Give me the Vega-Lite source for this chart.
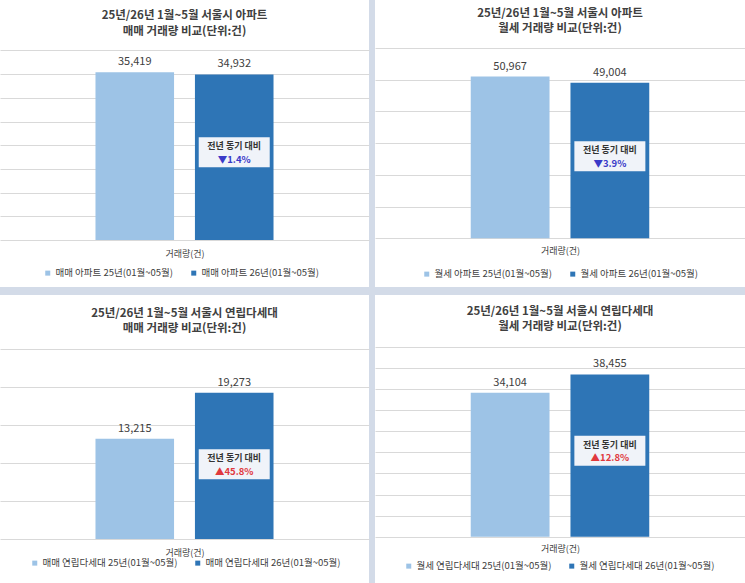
{
  "$schema": "https://vega.github.io/schema/vega-lite/v6.json",
  "background": "#d3dbe8",
  "padding": 0,
  "config": {
    "font": "Noto Sans CJK KR",
    "view": {"fill": "white", "stroke": null},
    "range": {"category": ["#9dc3e6", "#2e75b6"]},
    "title": {"fontSize": 11.5, "fontWeight": "bold", "color": "#404040", "anchor": "middle", "frame": "group", "baseline": "bottom", "font": "Noto Sans CJK KR"},
    "axis": {"minExtent": 0, "labels": false, "ticks": false, "domain": false, "tickCount": 30, "titleFontSize": 9, "titleFontWeight": "normal", "titleColor": "#404040", "titleBaseline": "middle", "gridColor": "#d9d9d9", "gridWidth": 1},
    "axisX": {"grid": false},
    "legend": {"orient": "none", "direction": "horizontal", "columns": 2, "symbolType": "square", "symbolSize": 25, "symbolStrokeWidth": 0, "labelFontSize": 9.5, "labelColor": "#404040", "columnPadding": 15, "padding": 0, "labelLimit": 300, "labelOffset": 3, "title": null},
    "text": {"fontSize": 11, "color": "#404040"}
  },
  "datasets": {
    "d": [
      {"panel": "p1", "series": "매매 아파트 25년(01월~05월)", "value": 35419},
      {"panel": "p1", "series": "매매 아파트 26년(01월~05월)", "value": 34932, "change": "▼1.4%"},
      {"panel": "p2", "series": "월세 아파트 25년(01월~05월)", "value": 50967},
      {"panel": "p2", "series": "월세 아파트 26년(01월~05월)", "value": 49004, "change": "▼3.9%"},
      {"panel": "p3", "series": "매매 연립다세대 25년(01월~05월)", "value": 13215},
      {"panel": "p3", "series": "매매 연립다세대 26년(01월~05월)", "value": 19273, "change": "▲45.8%"},
      {"panel": "p4", "series": "월세 연립다세대 25년(01월~05월)", "value": 34104},
      {"panel": "p4", "series": "월세 연립다세대 26년(01월~05월)", "value": 38455, "change": "▲12.8%"}
    ]
  },
  "spacing": 8,
  "resolve": {"scale": {"color": "independent", "x": "independent", "y": "independent"}, "legend": {"color": "independent"}},
  "vconcat": [
    {
      "spacing": 6,
      "resolve": {"scale": {"color": "independent", "x": "independent", "y": "independent"}, "legend": {"color": "independent"}},
      "hconcat": [
        {
          "width": 369, "height": 287,
          "data": {"name": "d"},
          "transform": [{"filter": "datum.panel === 'p1'"}],
          "title": {"text": ["25년/26년 1월~5월 서울시 아파트", "매매 거래량 비교(단위:건)"], "offset": -37, "lineHeight": 16},
          "encoding": {"x": {"field": "series", "type": "nominal", "scale": {"paddingInner": 0.21, "paddingOuter": 0.96}, "axis": {"title": "거래량(건)", "titleY": -34}}},
          "layer": [
            {"layer": [
              {"mark": {"type": "bar"}, "encoding": {
                "y": {"field": "value", "type": "quantitative", "scale": {"domain": [-9917, 50640], "nice": false, "zero": false}, "axis": {"title": null, "values": [0, 5000, 10000, 15000, 20000, 25000, 30000, 35000, 40000]}},
                "color": {"field": "series", "type": "nominal", "legend": {"legendX": 43, "legendY": 268}}}},
              {"mark": {"type": "text", "baseline": "bottom", "dy": -5}, "encoding": {
                "y": {"field": "value", "type": "quantitative"},
                "text": {"field": "value", "type": "quantitative", "format": ","}}}
            ]},
            {"transform": [{"filter": "isValid(datum.change)"}],
             "encoding": {"y": {"field": "value", "type": "quantitative", "scale": {"domain": [-18711, 95547], "nice": false, "zero": false}, "axis": null}},
             "layer": [
               {"mark": {"type": "point", "shape": "M-1,-0.4225H1V0.4225H-1Z", "size": 5041, "filled": true, "color": "#f0f3f9", "opacity": 1, "strokeWidth": 0}},
               {"mark": {"type": "text", "baseline": "middle", "dy": -6, "fontSize": 9, "fontWeight": "bold", "color": "#333333"}, "encoding": {"text": {"value": "전년 동기 대비"}}},
               {"mark": {"type": "text", "baseline": "middle", "dy": 7.5, "fontSize": 9.5, "fontWeight": "bold", "color": "#3a3ac8"}, "encoding": {"text": {"field": "change", "type": "nominal"}}}
             ]}
          ],
          "resolve": {"scale": {"y": "independent"}}
        },
        {
          "width": 370, "height": 287,
          "data": {"name": "d"},
          "transform": [{"filter": "datum.panel === 'p2'"}],
          "title": {"text": ["25년/26년 1월~5월 서울시 아파트", "월세 거래량 비교(단위:건)"], "offset": -34.5, "lineHeight": 15.5},
          "encoding": {"x": {"field": "series", "type": "nominal", "scale": {"paddingInner": 0.21, "paddingOuter": 0.96}, "axis": {"title": "거래량(건)", "titleY": -37}}},
          "layer": [
            {"layer": [
              {"mark": {"type": "bar"}, "encoding": {
                "y": {"field": "value", "type": "quantitative", "scale": {"domain": [-15341, 75065], "nice": false, "zero": false}, "axis": {"title": null, "values": [0, 10000, 20000, 30000, 40000, 50000, 60000]}},
                "color": {"field": "series", "type": "nominal", "legend": {"legendX": 47, "legendY": 269}}}},
              {"mark": {"type": "text", "baseline": "bottom", "dy": -5}, "encoding": {
                "y": {"field": "value", "type": "quantitative"},
                "text": {"field": "value", "type": "quantitative", "format": ","}}}
            ]},
            {"transform": [{"filter": "isValid(datum.change)"}],
             "encoding": {"y": {"field": "value", "type": "quantitative", "scale": {"domain": [-29110, 142438], "nice": false, "zero": false}, "axis": null}},
             "layer": [
               {"mark": {"type": "point", "shape": "M-1,-0.4225H1V0.4225H-1Z", "size": 5041, "filled": true, "color": "#f0f3f9", "opacity": 1, "strokeWidth": 0}},
               {"mark": {"type": "text", "baseline": "middle", "dy": -6.5, "fontSize": 9, "fontWeight": "bold", "color": "#333333"}, "encoding": {"text": {"value": "전년 동기 대비"}}},
               {"mark": {"type": "text", "baseline": "middle", "dy": 7.5, "fontSize": 9.5, "fontWeight": "bold", "color": "#3a3ac8"}, "encoding": {"text": {"field": "change", "type": "nominal"}}}
             ]}
          ],
          "resolve": {"scale": {"y": "independent"}}
        }
      ]
    },
    {
      "spacing": 6,
      "resolve": {"scale": {"color": "independent", "x": "independent", "y": "independent"}, "legend": {"color": "independent"}},
      "hconcat": [
        {
          "width": 369, "height": 288,
          "data": {"name": "d"},
          "transform": [{"filter": "datum.panel === 'p3'"}],
          "title": {"text": ["25년/26년 1월~5월 서울시 연립다세대", "매매 거래량 비교(단위:건)"], "offset": -39.5, "lineHeight": 15},
          "encoding": {"x": {"field": "series", "type": "nominal", "scale": {"paddingInner": 0.21, "paddingOuter": 0.96}, "axis": {"title": "거래량(건)", "titleY": -31}}},
          "layer": [
            {"layer": [
              {"mark": {"type": "bar"}, "encoding": {
                "y": {"field": "value", "type": "quantitative", "scale": {"domain": [-5795, 32135], "nice": false, "zero": false}, "axis": {"title": null, "values": [0, 5000, 10000, 15000, 20000, 25000]}},
                "color": {"field": "series", "type": "nominal", "legend": {"legendX": 30, "legendY": 263}}}},
              {"mark": {"type": "text", "baseline": "bottom", "dy": -5}, "encoding": {
                "y": {"field": "value", "type": "quantitative"},
                "text": {"field": "value", "type": "quantitative", "format": ","}}}
            ]},
            {"transform": [{"filter": "isValid(datum.change)"}],
             "encoding": {"y": {"field": "value", "type": "quantitative", "scale": {"domain": [-11363, 63010], "nice": false, "zero": false}, "axis": null}},
             "layer": [
               {"mark": {"type": "point", "shape": "M-1,-0.4225H1V0.4225H-1Z", "size": 5041, "filled": true, "color": "#f0f3f9", "opacity": 1, "strokeWidth": 0}},
               {"mark": {"type": "text", "baseline": "middle", "dy": -6, "fontSize": 9, "fontWeight": "bold", "color": "#333333"}, "encoding": {"text": {"value": "전년 동기 대비"}}},
               {"mark": {"type": "text", "baseline": "middle", "dy": 7.5, "fontSize": 9.5, "fontWeight": "bold", "color": "#e0393e"}, "encoding": {"text": {"field": "change", "type": "nominal"}}}
             ]}
          ],
          "resolve": {"scale": {"y": "independent"}}
        },
        {
          "width": 370, "height": 288,
          "data": {"name": "d"},
          "transform": [{"filter": "datum.panel === 'p4'"}],
          "title": {"text": ["25년/26년 1월~5월 서울시 연립다세대", "월세 거래량 비교(단위:건)"], "offset": -37, "lineHeight": 14.5},
          "encoding": {"x": {"field": "series", "type": "nominal", "scale": {"paddingInner": 0.21, "paddingOuter": 0.96}, "axis": {"title": "거래량(건)", "titleY": -35}}},
          "layer": [
            {"layer": [
              {"mark": {"type": "bar"}, "encoding": {
                "y": {"field": "value", "type": "quantitative", "scale": {"domain": [-10973, 57283], "nice": false, "zero": false}, "axis": {"title": null, "values": [0, 5000, 10000, 15000, 20000, 25000, 30000, 35000, 40000, 45000]}},
                "color": {"field": "series", "type": "nominal", "legend": {"legendX": 29, "legendY": 266}}}},
              {"mark": {"type": "text", "baseline": "bottom", "dy": -5}, "encoding": {
                "y": {"field": "value", "type": "quantitative"},
                "text": {"field": "value", "type": "quantitative", "format": ","}}}
            ]},
            {"transform": [{"filter": "isValid(datum.change)"}],
             "encoding": {"y": {"field": "value", "type": "quantitative", "scale": {"domain": [-20704, 108081], "nice": false, "zero": false}, "axis": null}},
             "layer": [
               {"mark": {"type": "point", "shape": "M-1,-0.4225H1V0.4225H-1Z", "size": 5041, "filled": true, "color": "#f0f3f9", "opacity": 1, "strokeWidth": 0}},
               {"mark": {"type": "text", "baseline": "middle", "dy": -6, "fontSize": 9, "fontWeight": "bold", "color": "#333333"}, "encoding": {"text": {"value": "전년 동기 대비"}}},
               {"mark": {"type": "text", "baseline": "middle", "dy": 7.5, "fontSize": 9.5, "fontWeight": "bold", "color": "#e0393e"}, "encoding": {"text": {"field": "change", "type": "nominal"}}}
             ]}
          ],
          "resolve": {"scale": {"y": "independent"}}
        }
      ]
    }
  ]
}
